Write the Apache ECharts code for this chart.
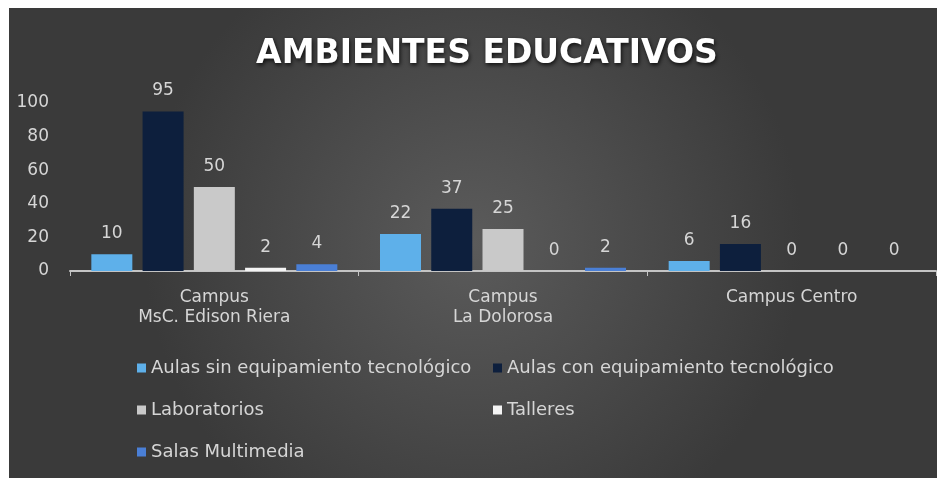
<!DOCTYPE html>
<html>
<head>
<meta charset="utf-8">
<script src="https://cdn.jsdelivr.net/npm/echarts@6/dist/echarts.min.js"></script>
<style>
    html, body { margin: 0; padding: 0; background: #ffffff; }
    #chart { width: 937px; height: 478px; }
</style>
</head>
<body>
<div id="chart"></div>
<script>
    var campus = ['Campus\nMsC. Edison Riera', 'Campus\nLa Dolorosa', 'Campus Centro'];
    var sinEquipo = [10, 22, 6];
    var conEquipo = [95, 37, 16];
    var laboratorios = [50, 25, 0];
    var talleres = [2, 0, 0];
    var multimedia = [4, 2, 0];
    var nombres = [
        'Aulas sin equipamiento tecnológico',
        'Aulas con equipamiento tecnológico',
        'Laboratorios',
        'Talleres',
        'Salas Multimedia'
    ];
    var colores = ['#5eb0ea', '#0d1f3d', '#c9c9c9', '#f4f4f4', '#4a7fd6'];
    var valores = [sinEquipo, conEquipo, laboratorios, talleres, multimedia];

    var fuente = '"DejaVu Sans", sans-serif';
    var gris = '#d6d6d6';

    var series = [];
    for (var i = 0; i < nombres.length; i++) {
        series.push({
            name: nombres[i],
            type: 'bar',
            data: valores[i],
            barWidth: 41,
            barGap: '25%',
            itemStyle: { color: colores[i] },
            label: {
                show: true,
                position: 'top',
                distance: 12,
                color: gris,
                fontSize: 17,
                fontFamily: fuente
            }
        });
    }

    var chart = echarts.init(document.getElementById('chart'));
    chart.setOption({
        animation: false,
        color: colores,
        graphic: [{
            type: 'rect',
            left: 9,
            top: 8,
            z: -10,
            shape: { width: 928, height: 470 },
            style: {
                fill: new echarts.graphic.RadialGradient(0.5, 0.5, 0.7, [
                    { offset: 0, color: '#5b5b5b' },
                    { offset: 1, color: '#3a3a3a' }
                ])
            }
        }],
        title: {
            text: 'AMBIENTES EDUCATIVOS',
            left: 482,
            textAlign: 'center',
            top: 33,
            textStyle: {
                color: '#ffffff',
                fontSize: 33,
                fontWeight: 'bold',
                fontFamily: fuente,
                textShadowColor: 'rgba(0,0,0,0.8)',
                textShadowBlur: 4,
                textShadowOffsetX: 1,
                textShadowOffsetY: 2
            }
        },
        legend: [{
            orient: 'vertical',
            left: 137,
            top: 358,
            padding: 0,
            itemWidth: 9,
            itemHeight: 9,
            itemGap: 22,
            icon: 'rect',
            data: [nombres[0], nombres[2], nombres[4]],
            textStyle: { color: gris, fontSize: 18, fontFamily: fuente, lineHeight: 20 }
        }, {
            orient: 'vertical',
            left: 493,
            top: 358,
            padding: 0,
            itemWidth: 9,
            itemHeight: 9,
            itemGap: 22,
            icon: 'rect',
            data: [nombres[1], nombres[3]],
            textStyle: { color: gris, fontSize: 18, fontFamily: fuente, lineHeight: 20 }
        }],
        grid: {
            left: 70,
            right: 1,
            top: 103,
            bottom: 207
        },
        xAxis: {
            type: 'category',
            data: campus,
            axisLine: { lineStyle: { color: '#c4c4c4', width: 2 } },
            axisTick: { show: true, length: 5, lineStyle: { color: '#c4c4c4' } },
            axisLabel: {
                color: gris,
                fontSize: 17,
                fontFamily: fuente,
                lineHeight: 20,
                margin: 17
            }
        },
        yAxis: {
            type: 'value',
            min: 0,
            max: 100,
            interval: 20,
            axisLine: { show: false },
            axisTick: { show: false },
            splitLine: { show: false },
            axisLabel: {
                color: gris,
                fontSize: 17,
                fontFamily: fuente,
                margin: 21
            }
        },
        series: series
    });
</script>
</body>
</html>
